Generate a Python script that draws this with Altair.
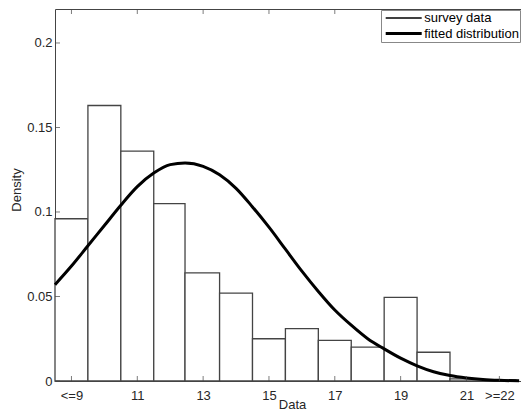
import altair as alt
import pandas as pd

# ---- data ----
series_names = ["survey data", "fitted distribution"]

bin_left = [8.5, 9.5, 10.5, 11.5, 12.45, 13.5, 14.5, 15.5, 16.5, 17.5, 18.5, 19.5, 20.5, 21.5]
bin_right = [9.5, 10.5, 11.5, 12.45, 13.5, 14.5, 15.5, 16.5, 17.5, 18.5, 19.5, 20.5, 21.5, 22.5]
density = [0.096, 0.163, 0.136, 0.105, 0.064, 0.052, 0.025, 0.031, 0.024, 0.020, 0.0495, 0.017, 0.0012, 0.0006]

curve_x = [8.5, 9.0, 9.5, 10.0, 10.5, 11.0, 11.5, 12.0, 12.45, 13.0, 13.5, 14.0, 14.5, 15.0,
           15.5, 16.0, 16.5, 17.0, 17.5, 18.0, 18.5, 19.0, 19.5, 20.0, 20.5, 21.0, 21.5, 22.0, 22.6]
curve_y = [0.057, 0.068, 0.080, 0.092, 0.104, 0.115, 0.123, 0.128, 0.129, 0.127, 0.122, 0.114, 0.103, 0.091,
           0.078, 0.065, 0.053, 0.042, 0.033, 0.025, 0.019, 0.0135, 0.009, 0.0055, 0.0032, 0.0018, 0.0009, 0.0004, 0.0001]

x_tick_values = [9, 11, 13, 15, 17, 19, 21, 22]
x_tick_labels = ["<=9", "11", "13", "15", "17", "19", "21", ">=22"]
y_tick_values = [0, 0.05, 0.1, 0.15, 0.2]

x_domain = [8.5, 22.9]
y_domain = [0, 0.2201]

# ---- tables ----
hist_df = pd.DataFrame({"lo": bin_left, "hi": bin_right, "density": density})
curve_df = pd.DataFrame({"x": curve_x, "y": curve_y, "series": series_names[1]})
xt_df = pd.DataFrame({"v": x_tick_values})
yt_df = pd.DataFrame({"v": y_tick_values})

AX = "#444444"
TXT = "#262626"
FONT = "Liberation Sans"

label_expr = "".join(f"datum.value == {v} ? '{l}' : " for v, l in zip(x_tick_values, x_tick_labels)) + "''"

xscale = alt.Scale(domain=x_domain, nice=False, zero=False)
yscale = alt.Scale(domain=y_domain, nice=False, zero=False)

x_axis = alt.Axis(values=x_tick_values, labelExpr=label_expr, ticks=False, domain=False, grid=False,
                  labelPadding=8, labelFontSize=13, labelColor=TXT, labelFont=FONT,
                  titleFontSize=13, titleColor=TXT, titleFont=FONT, titleFontWeight="normal",
                  titleBaseline="alphabetic", titleY=27)
y_axis = alt.Axis(values=y_tick_values, format="~g", ticks=False, domain=False, grid=False,
                  labelPadding=3, labelFontSize=13, labelColor=TXT, labelFont=FONT,
                  titleFontSize=13, titleColor=TXT, titleFont=FONT, titleFontWeight="normal",
                  titleBaseline="alphabetic", titleX=-35, titleY=180.5)

sw = alt.StrokeWidth(
    "series:O",
    scale=alt.Scale(domain=series_names, range=[1.3, 3]),
    legend=alt.Legend(
        title=None, orient="none", legendX=326, legendY=1,
        symbolType="M-3,0H3", symbolSize=144, symbolStrokeColor="black",
        symbolFillColor="transparent",
        symbolOffset=14.2, labelOffset=13, padding=1, rowPadding=1,
        strokeColor="#888888", fillColor="white",
        labelFontSize=13, labelFont=FONT, labelColor="black",
    ),
)

bars = alt.Chart(hist_df).mark_rect(fill="white", stroke=AX, strokeWidth=1.3).encode(
    x=alt.X("lo:Q", scale=xscale, axis=x_axis, title="Data"),
    x2="hi:Q",
    y=alt.Y("density:Q", scale=yscale, axis=y_axis, title="Density"),
    y2=alt.datum(0),
)

curve = alt.Chart(curve_df).mark_line(color="black", interpolate="monotone", strokeCap="butt").encode(
    x=alt.X("x:Q", scale=xscale, axis=x_axis, title="Data"),
    y=alt.Y("y:Q", scale=yscale, axis=y_axis, title="Density"),
    strokeWidth=sw,
)

def ydat(v):
    return alt.YDatum(v, type="quantitative", scale=yscale, axis=y_axis, title="Density")

def xdat(v):
    return alt.XDatum(v, type="quantitative", scale=xscale, axis=x_axis, title="Data")

tick_style = dict(color=AX, thickness=1, size=5)
bottom_ticks = alt.Chart(xt_df).mark_tick(orient="vertical", yOffset=-2.5, **tick_style).encode(
    x=alt.X("v:Q", scale=xscale, axis=x_axis, title="Data"), y=ydat(y_domain[0]))
top_ticks = alt.Chart(xt_df).mark_tick(orient="vertical", yOffset=2.5, **tick_style).encode(
    x=alt.X("v:Q", scale=xscale, axis=x_axis, title="Data"), y=ydat(y_domain[1]))
left_ticks = alt.Chart(yt_df).mark_tick(orient="horizontal", xOffset=2.5, **tick_style).encode(
    y=alt.Y("v:Q", scale=yscale, axis=y_axis, title="Density"), x=xdat(x_domain[0]))
right_ticks = alt.Chart(yt_df).mark_tick(orient="horizontal", xOffset=-2.5, **tick_style).encode(
    y=alt.Y("v:Q", scale=yscale, axis=y_axis, title="Density"), x=xdat(x_domain[1]))

# the reference figure is cropped on its right side: the plot area runs past the page edge
chart = alt.layer(bars, curve, bottom_ticks, top_ticks, left_ticks, right_ticks).properties(
    width=474, height=372,
    autosize=alt.AutoSizeParams(type="none"),
    padding={"left": 47, "top": 1, "right": -8, "bottom": 29},
    background="white",
).configure(font=FONT).configure_view(stroke=AX, strokeWidth=1)

chart.save("out.html", embed_options={"renderer": "svg", "actions": False})
